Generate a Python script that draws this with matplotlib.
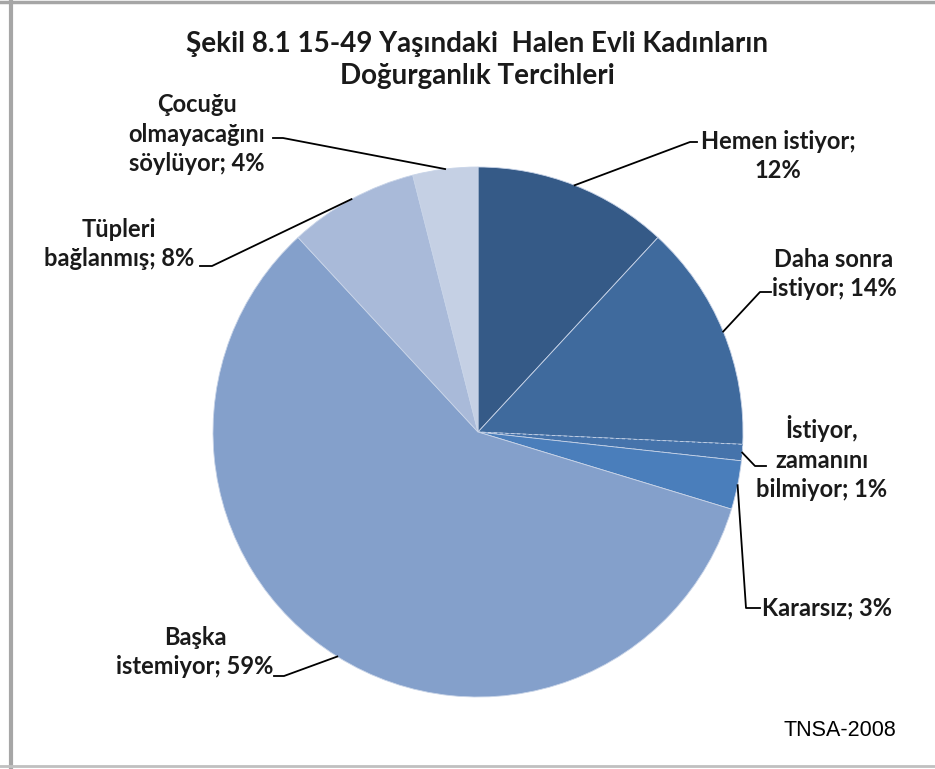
import numpy as np
import matplotlib.pyplot as plt
from matplotlib.lines import Line2D

plt.rcParams['font.family'] = ['Lato', 'DejaVu Sans']

baslik = "Şekil 8.1 15-49 Yaşındaki  Halen Evli Kadınların\nDoğurganlık Tercihleri"
etiketler = ["Hemen istiyor;\n12%", "Daha sonra\nistiyor; 14%", "İstiyor,\nzamanını\nbilmiyor; 1%",
             "Kararsız; 3%", "Başka\nistemiyor; 59%", "Tüpleri\nbağlanmış; 8%",
             "Çocuğu\nolmayacağını\nsöylüyor; 4%"]
yuzdeler = [12, 14, 1, 3, 59, 8, 4]
renkler = ["#355A87", "#3F6A9D", "#4573AB", "#4A7EBB", "#84A0CB", "#A9BAD9", "#C5D0E4"]

W, H = 935, 769
fig = plt.figure(figsize=(W / 100, H / 100), dpi=100)

# pasta merkezi ve yaricapi (piksel)
cx, cy, r = 478, 432, 265
ax = fig.add_axes([(cx - r) / W, (H - cy - r) / H, 2 * r / W, 2 * r / H])

wedges, _ = ax.pie(yuzdeler, colors=renkler, startangle=90, counterclock=False, radius=1,
                   wedgeprops=dict(edgecolor="#c8d4e8", linewidth=0.6))
wedges[2].set_linestyle((0, (4, 3)))
ax.set_xlim(-1, 1)
ax.set_ylim(-1, 1)
ax.axis('off')


def px(x, y):
    return (x - cx) / r, (cy - y) / r


# etiket yerleri: (dirsek x, dirsek y, uc x, metin x, metin y)
yerlesim = [
    (690, 142, 697, 778, 156),
    (760, 292, 771, 834, 274),
    (755, 466, 766, 822, 458),
    (746, 608, 760, 827, 608),
    (284, 676, 274, 195, 652),
    (212, 266, 200, 119, 244),
    (283, 138, 273, 197, 134),
]

for w, lbl, (ex, ey, tx, lx, ly) in zip(wedges, etiketler, yerlesim):
    orta = np.deg2rad((w.theta1 + w.theta2) / 2)
    x0, y0 = np.cos(orta), np.sin(orta)
    x1, y1 = px(ex, ey)
    x2, y2 = px(tx, ey)
    ax.plot([x0, x1, x2], [y0, y1, y2], color="black", lw=1.3, clip_on=False)
    lxd, lyd = px(lx, ly)
    ax.text(lxd, lyd, lbl, ha='center', va='center', fontsize=17, fontweight='bold',
            color="#1a1a1a", linespacing=1.34)

fig.text(477 / W, 1 - 60 / H, baslik, ha='center', va='center', fontsize=20,
         fontweight='bold', color="#1a1a1a", linespacing=1.24)
fig.text(840 / W, 1 - 730 / H, "TNSA-2008", ha='center', va='center', fontsize=15.5,
         family='Liberation Sans', color="black")

# cerceve
fig.add_artist(Line2D([10.5 / W, 10.5 / W], [0, 1], transform=fig.transFigure, color="#a6a6a6", lw=3))
fig.add_artist(Line2D([0, 1], [1 - 1.5 / H, 1 - 1.5 / H], transform=fig.transFigure, color="#a6a6a6", lw=2.5))
fig.add_artist(Line2D([0, 1], [1 - 766 / H, 1 - 766 / H], transform=fig.transFigure, color="#c0c0c0", lw=2))

fig.savefig("out.png", dpi=100)
